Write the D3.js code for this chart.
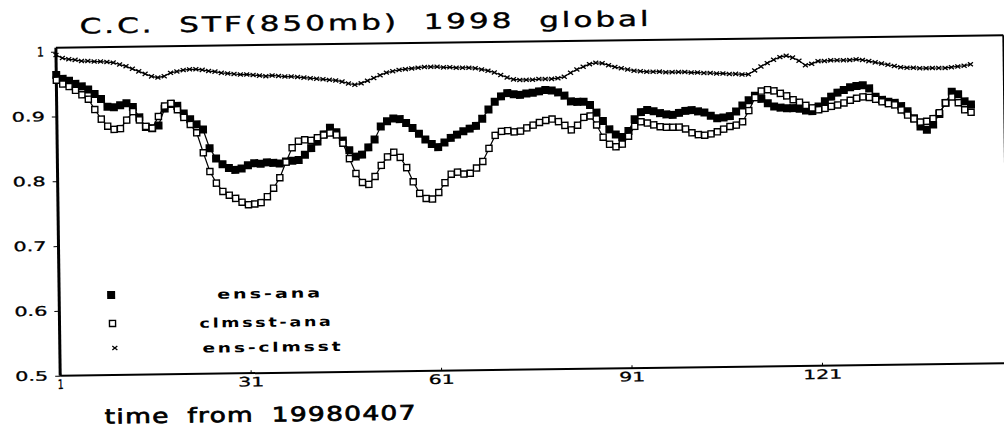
<!DOCTYPE html>
<html><head><meta charset="utf-8">
<script src="https://cdn.jsdelivr.net/npm/d3@7"></script>
<style>html,body{margin:0;padding:0;background:#fff;} svg{display:block;}</style>
</head><body><svg id="c" width="1004" height="428"></svg>
<script>
const titleText = "C.C. STF(850mb) 1998 global";
const xAxisTitle = "time from 19980407";
const seriesNames = ["ens-ana", "clmsst-ana", "ens-clmsst"];
const xTickValues = [1, 31, 61, 91, 121];
const xTickLabels = ["1", "31", "61", "91", "121"];
const yTickValues = [0.5, 0.6, 0.7, 0.8, 0.9, 1];
const yTickLabels = ["0.5", "0.6", "0.7", "0.8", "0.9", "1"];

const ensAna = [
0.964,0.958,0.955,0.950,0.946,0.941,0.934,0.926,0.914,0.913,
0.916,0.919,0.913,0.897,0.882,0.880,0.884,0.910,0.917,0.914,
0.902,0.893,0.885,0.877,0.848,0.832,0.823,0.817,0.814,0.816,
0.821,0.824,0.823,0.825,0.824,0.823,0.826,0.827,0.828,0.836,
0.846,0.856,0.867,0.877,0.870,0.857,0.842,0.832,0.835,0.846,
0.858,0.878,0.886,0.890,0.889,0.883,0.875,0.866,0.857,0.850,
0.845,0.852,0.859,0.864,0.869,0.873,0.877,0.888,0.902,0.914,
0.922,0.927,0.925,0.924,0.926,0.927,0.929,0.931,0.930,0.927,
0.922,0.913,0.912,0.912,0.907,0.895,0.882,0.869,0.861,0.857,
0.866,0.884,0.895,0.898,0.896,0.893,0.891,0.890,0.893,0.896,
0.897,0.895,0.893,0.888,0.884,0.885,0.887,0.894,0.903,0.911,
0.918,0.913,0.906,0.901,0.899,0.898,0.898,0.897,0.894,0.893,
0.900,0.908,0.915,0.921,0.925,0.929,0.931,0.932,0.927,0.914,
0.909,0.906,0.904,0.899,0.891,0.880,0.867,0.862,0.870,0.886,
0.903,0.920,0.916,0.905,0.900];

const clmsstAna = [
0.956,0.950,0.946,0.940,0.933,0.926,0.910,0.895,0.884,0.879,
0.880,0.893,0.906,0.893,0.883,0.880,0.898,0.914,0.918,0.908,
0.896,0.885,0.872,0.841,0.812,0.794,0.781,0.775,0.770,0.764,
0.760,0.761,0.763,0.772,0.785,0.801,0.825,0.847,0.857,0.859,
0.858,0.862,0.866,0.869,0.866,0.853,0.829,0.806,0.792,0.789,
0.801,0.818,0.831,0.838,0.830,0.814,0.792,0.774,0.766,0.765,
0.775,0.790,0.803,0.806,0.803,0.804,0.812,0.822,0.842,0.862,
0.868,0.869,0.867,0.868,0.873,0.877,0.881,0.884,0.886,0.882,
0.876,0.869,0.876,0.888,0.890,0.876,0.857,0.846,0.842,0.846,
0.858,0.873,0.880,0.878,0.875,0.872,0.871,0.871,0.871,0.868,
0.862,0.859,0.858,0.860,0.863,0.867,0.871,0.873,0.878,0.895,
0.915,0.925,0.927,0.925,0.921,0.917,0.911,0.907,0.902,0.898,
0.895,0.897,0.900,0.902,0.905,0.909,0.912,0.914,0.913,0.910,
0.906,0.903,0.901,0.893,0.885,0.879,0.874,0.875,0.879,0.888,
0.903,0.912,0.903,0.892,0.888];

const ensClmsst = [
0.995,0.990,0.988,0.987,0.985,0.985,0.984,0.984,0.983,0.982,
0.979,0.976,0.972,0.968,0.964,0.960,0.958,0.960,0.965,0.967,
0.969,0.970,0.970,0.969,0.967,0.966,0.964,0.963,0.962,0.961,
0.961,0.960,0.959,0.958,0.959,0.958,0.957,0.957,0.956,0.955,
0.954,0.953,0.952,0.951,0.950,0.948,0.945,0.943,0.945,0.949,
0.953,0.957,0.961,0.963,0.965,0.966,0.967,0.968,0.969,0.969,
0.969,0.968,0.968,0.967,0.967,0.967,0.966,0.964,0.962,0.959,
0.955,0.951,0.948,0.947,0.947,0.947,0.948,0.948,0.948,0.949,
0.951,0.957,0.962,0.966,0.970,0.972,0.971,0.968,0.965,0.963,
0.961,0.959,0.958,0.957,0.957,0.957,0.956,0.956,0.956,0.956,
0.955,0.955,0.954,0.954,0.953,0.953,0.952,0.952,0.951,0.951,
0.957,0.963,0.968,0.973,0.977,0.979,0.976,0.971,0.964,0.966,
0.970,0.970,0.971,0.971,0.971,0.971,0.972,0.971,0.969,0.967,
0.965,0.963,0.961,0.959,0.958,0.958,0.957,0.957,0.957,0.957,
0.957,0.958,0.959,0.960,0.962];

const days = ensAna.map((_, i) => i + 1);

const W = 1004, H = 428;
const frame = {left: 58, right: 1004, top: 41.5, bottom: 369.5, border: 1005.5};
const x = d3.scaleLinear().domain([1, 150]).range([frame.left, frame.right]);
const y = d3.scaleLinear().domain([0.5, 1]).range([frame.bottom, 45.5]);

const svg = d3.select("#c");
svg.append("rect").attr("width", W).attr("height", H).attr("fill", "#fff");
const g = svg.append("g").attr("transform", "rotate(-0.75,530,205)");
const FONT = "'DejaVu Sans', sans-serif";

// title
g.append("text").attr("x", 82).attr("y", 27.5)
  .attr("font-family", FONT).attr("font-size", 21)
  .attr("letter-spacing", "2px").attr("word-spacing", "8px")
  .attr("stroke", "#000").attr("stroke-width", 0.4)
  .attr("textLength", 572).attr("lengthAdjust", "spacingAndGlyphs")
  .attr("fill", "#000").text(titleText);

// frame lines
g.append("line").attr("x1", frame.left).attr("x2", frame.border).attr("y1", frame.top).attr("y2", frame.top)
  .attr("stroke", "#000").attr("stroke-width", 2);
g.append("line").attr("x1", frame.border).attr("x2", frame.border).attr("y1", frame.top).attr("y2", frame.bottom)
  .attr("stroke", "#000").attr("stroke-width", 2);

// axes
const yAxis = d3.axisLeft(y).tickValues(yTickValues)
  .tickFormat((d, i) => yTickLabels[i]).tickSizeInner(5).tickSizeOuter(0).tickPadding(7);
const gy = g.append("g").attr("transform", `translate(${frame.left},0)`).call(yAxis);
gy.select(".domain").attr("stroke", "#000").attr("stroke-width", 3)
  .attr("d", `M0,${frame.top}V${frame.bottom}`);
gy.selectAll(".tick line").attr("stroke", "#000").attr("stroke-width", 1);
gy.selectAll(".tick text").attr("font-family", FONT).attr("font-size", 13)
  .attr("stroke", "#000").attr("stroke-width", 0.3)
  .attr("textLength", (d, i) => yTickLabels[i].length > 1 ? 33 : 7)
  .attr("lengthAdjust", "spacingAndGlyphs").attr("fill", "#000");

const xAxis = d3.axisBottom(x).tickValues(xTickValues)
  .tickFormat((d, i) => xTickLabels[i]).tickSizeInner(-3).tickSizeOuter(0).tickPadding(4);
const gx = g.append("g").attr("transform", `translate(0,${frame.bottom})`).call(xAxis);
gx.select(".domain").attr("stroke", "#000").attr("stroke-width", 2)
  .attr("d", `M${frame.left},0H${frame.border}`);
gx.selectAll(".tick line").attr("stroke", "#000").attr("stroke-width", 1);
gx.selectAll(".tick text").attr("font-family", FONT).attr("font-size", 13)
  .attr("stroke", "#000").attr("stroke-width", 0.3)
  .attr("textLength", (d, i) => xTickLabels[i].length > 1 ? xTickLabels[i].length * 13 : 6)
  .attr("lengthAdjust", "spacingAndGlyphs").attr("fill", "#000");

g.append("text").attr("x", 102).attr("y", 418)
  .attr("font-family", FONT).attr("font-size", 20)
  .attr("letter-spacing", "1px").attr("word-spacing", "6px")
  .attr("stroke", "#000").attr("stroke-width", 0.7)
  .attr("textLength", 312).attr("lengthAdjust", "spacingAndGlyphs")
  .attr("fill", "#000").text(xAxisTitle);

// series
const line = d3.line().x((d, i) => x(days[i])).y(d => y(d));
const S = 8;
function drawLine(vals) {
  g.append("path").datum(vals).attr("d", line).attr("fill", "none")
    .attr("stroke", "#000").attr("stroke-width", 1.2);
}
function drawFilled(sel, cx, cy) {
  sel.append("rect").attr("x", cx - S / 2).attr("y", cy - S / 2).attr("width", S).attr("height", S).attr("fill", "#000");
}
function drawOpen(sel, cx, cy) {
  const s = 7.5;
  sel.append("rect").attr("x", cx - s / 2 + 0.7).attr("y", cy - s / 2 + 0.7).attr("width", s - 1.4).attr("height", s - 1.4)
    .attr("fill", "#fff").attr("stroke", "#000").attr("stroke-width", 1.4);
}
function drawX(sel, cx, cy) {
  sel.append("path").attr("d", `M${cx - 2.5},${cy - 2}L${cx + 2.5},${cy + 2}M${cx - 2.5},${cy + 2}L${cx + 2.5},${cy - 2}`)
    .attr("stroke", "#000").attr("stroke-width", 1.3).attr("fill", "none");
}

drawLine(ensAna);
const gA = g.append("g");
ensAna.forEach((v, i) => drawFilled(gA, x(days[i]), y(v)));
drawLine(clmsstAna);
const gB = g.append("g");
clmsstAna.forEach((v, i) => drawOpen(gB, x(days[i]), y(v)));
drawLine(ensClmsst);
const gC = g.append("g");
ensClmsst.forEach((v, i) => drawX(gC, x(days[i]), y(v)));

// legend
const legendRows = [
  {marker: drawFilled, mx: 110, my: 289.5, tx: 269, ty: 294.6, len: 106},
  {marker: drawOpen, mx: 111, my: 318, tx: 265, ty: 323.3, len: 134},
  {marker: drawX, mx: 113, my: 342.6, tx: 271, ty: 348.3, len: 141}
];
const gl = g.append("g");
legendRows.forEach((r, i) => {
  r.marker(gl, r.mx, r.my);
  gl.append("text").attr("x", r.tx - r.len / 2).attr("y", r.ty)
    .attr("font-family", FONT).attr("font-size", 13).attr("font-weight", "bold")
    .attr("letter-spacing", "2px")
    .attr("textLength", r.len).attr("lengthAdjust", "spacingAndGlyphs")
    .attr("fill", "#000").text(seriesNames[i]);
});
</script></body></html>
